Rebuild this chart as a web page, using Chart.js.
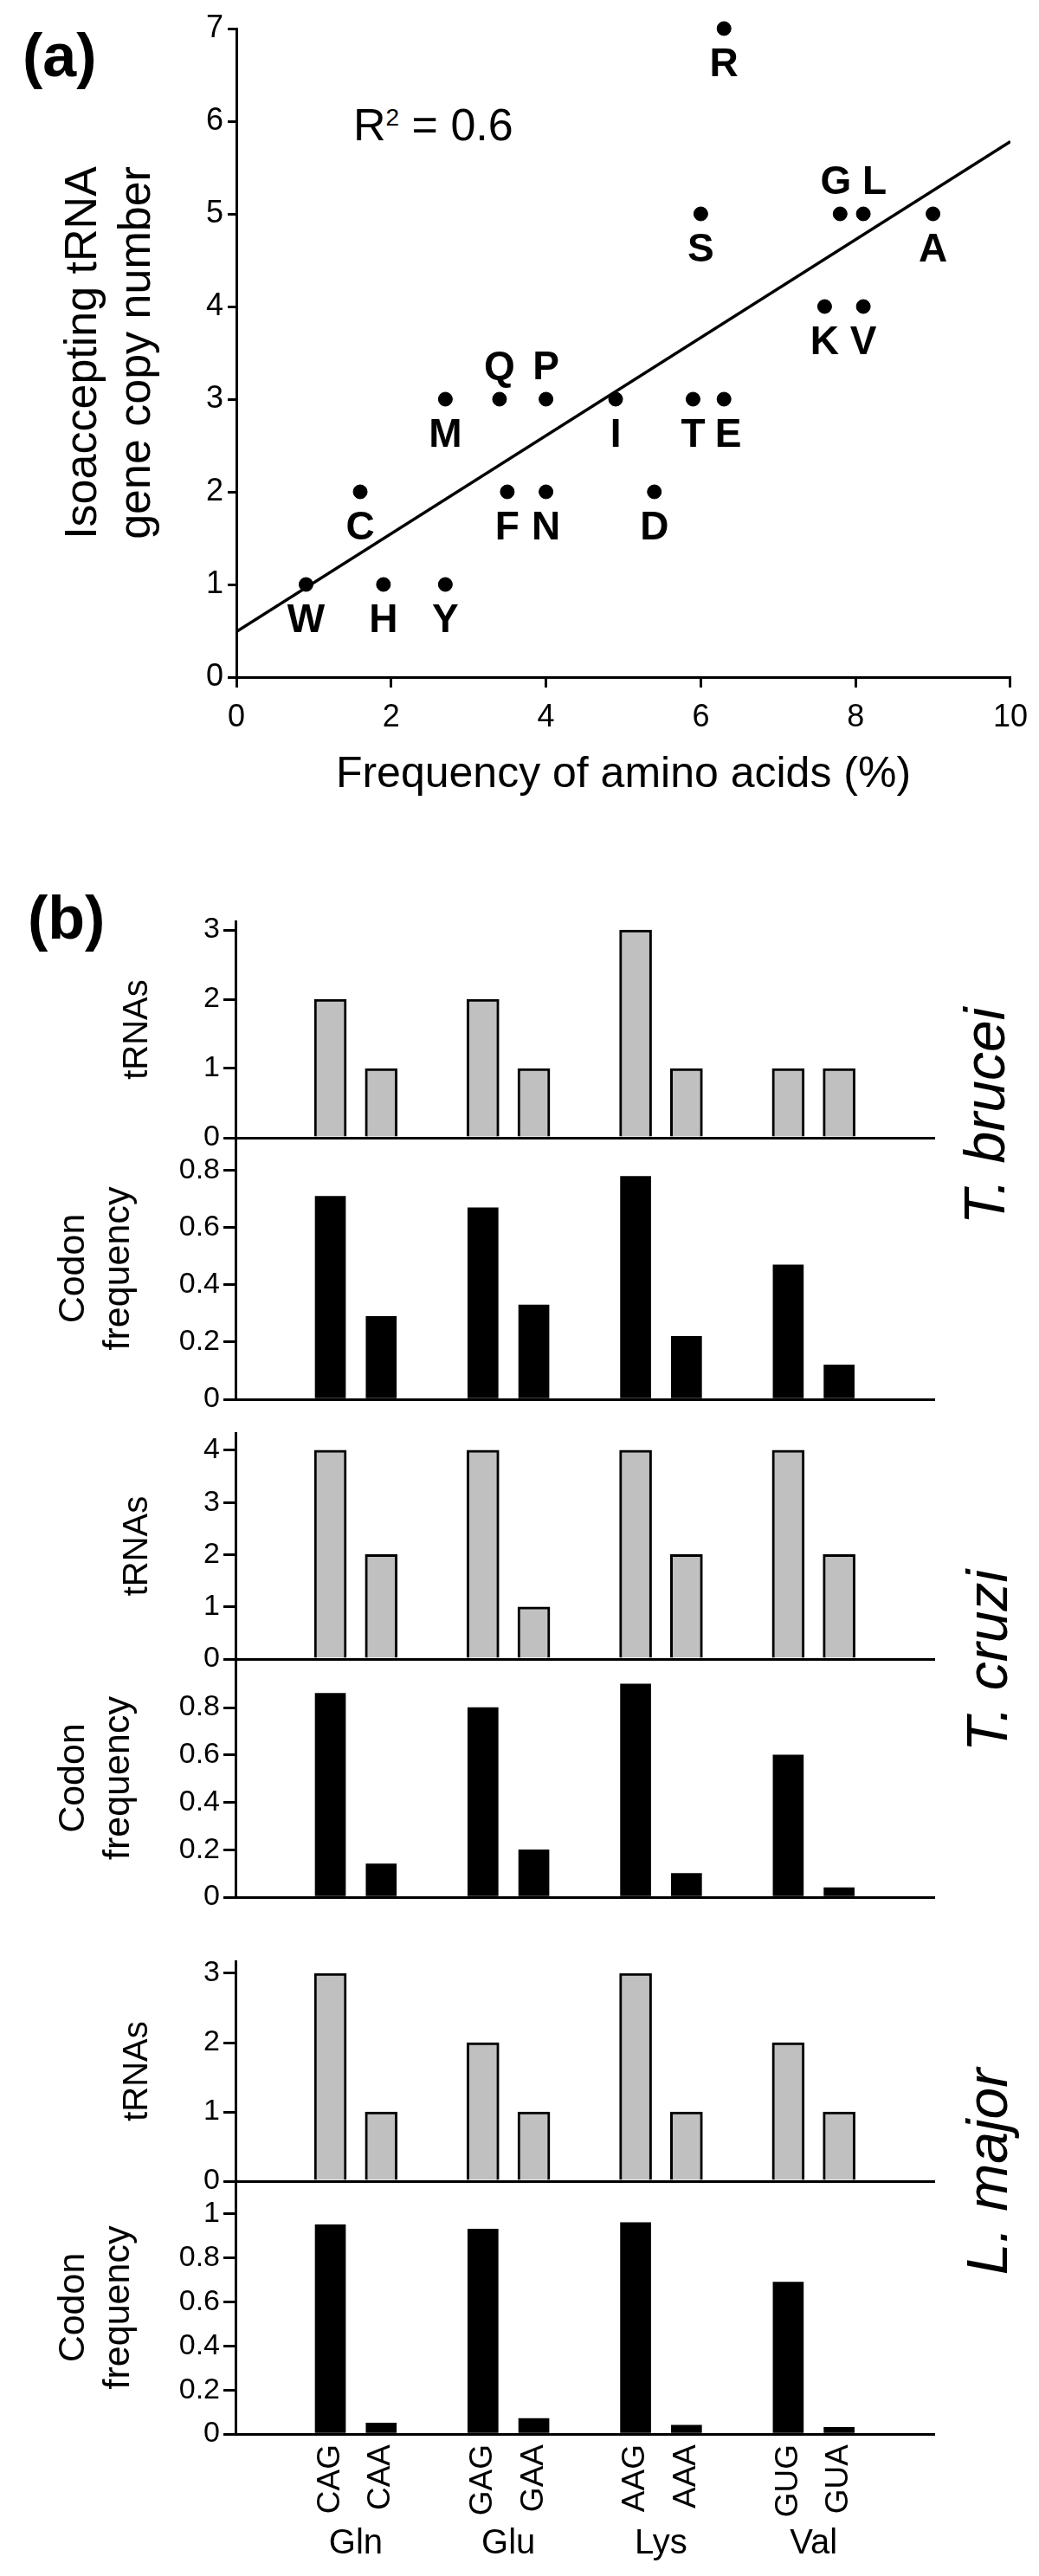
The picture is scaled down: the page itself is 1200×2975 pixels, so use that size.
<!DOCTYPE html>
<html lang="en">
<head>
    <meta charset="UTF-8">
    <title>tRNA gene copy number and codon usage</title>
    <script src="https://cdn.jsdelivr.net/npm/chart.js"></script>
    <style>
        body {
            margin: 0;
            background: #fff;
            font-family: 'Liberation Sans', Arial, sans-serif;
            color: #000;
        }
        #page {
            position: relative;
            width: 1200px;
            height: 2975px;
            overflow: hidden;
        }
        canvas {
            position: absolute;
            left: 0;
        }
        .tag {
            position: absolute;
            font-weight: bold;
            font-size: 70px;
            line-height: 70px;
        }
        .species {
            position: absolute;
            font-style: italic;
            font-size: 66px;
            line-height: 66px;
            white-space: nowrap;
            transform: translate(-50%, -50%) rotate(-90deg);
        }
        .r2 {
            position: absolute;
            left: 408px;
            top: 118px;
            font-size: 52px;
            line-height: 52px;
            white-space: nowrap;
        }
        .r2 span {
            font-size: 28px;
            position: relative;
            top: -17px;
        }
    </style>
</head>
<body>
<div id="page">
    <div class="tag" style="left:26px; top:29px;">(a)</div>
    <div class="r2">R<span>2</span> = 0.6</div>
    <div class="tag" style="left:32px; top:1025px;">(b)</div>
    <div class="species" style="left:1137px; top:1289px;">T. brucei</div>
    <div class="species" style="left:1140px; top:1918px;">T. cruzi</div>
    <div class="species" style="left:1140px; top:2508px;">L. major</div>
</div>

<script>
    // (a) amino acids: frequency vs isoaccepting tRNA gene copies
    const aminoNames = ['W', 'H', 'Y', 'C', 'F', 'N', 'D', 'M', 'Q', 'P', 'I', 'T', 'E', 'K', 'V', 'S', 'G', 'L', 'A', 'R'];
    const aaFrequency = [0.9, 1.9, 2.7, 1.6, 3.5, 4.0, 5.4, 2.7, 3.4, 4.0, 4.9, 5.9, 6.3, 7.6, 8.1, 6.0, 7.8, 8.1, 9.0, 6.3];
    const tRNACopies = [1, 1, 1, 2, 2, 2, 2, 3, 3, 3, 3, 3, 3, 4, 4, 5, 5, 5, 5, 7];
    const labelsAbove = ['Q', 'P', 'G', 'L'];
    // fitted line, read at both ends of the x range
    const fitX = [0, 10];
    const fitY = [0.49, 5.78];

    // (b) codons and amino acids
    const codons = ['CAG', 'CAA', 'GAG', 'GAA', 'AAG', 'AAA', 'GUG', 'GUA'];
    const aminoGroups = ['Gln', 'Glu', 'Lys', 'Val'];

    const bruceiTRNA = [2, 1, 2, 1, 3, 1, 1, 1];
    const bruceiCodon = [0.71, 0.29, 0.67, 0.33, 0.78, 0.22, 0.47, 0.12];
    const cruziTRNA = [4, 2, 4, 1, 4, 2, 4, 2];
    const cruziCodon = [0.86, 0.14, 0.80, 0.20, 0.90, 0.10, 0.60, 0.04];
    const majorTRNA = [3, 1, 2, 1, 3, 1, 2, 1];
    const majorCodon = [0.95, 0.05, 0.93, 0.07, 0.96, 0.04, 0.69, 0.03];

    Chart.defaults.font.family = "'Liberation Sans', Arial, sans-serif";
    Chart.defaults.color = '#000';
    Chart.defaults.animation = false;

    const page = document.getElementById('page');

    function makeCanvas(top, height) {
        const c = document.createElement('canvas');
        c.width = 1200;
        c.height = height;
        c.style.top = top + 'px';
        c.style.width = '1200px';
        c.style.height = height + 'px';
        page.appendChild(c);
        return c;
    }

    // letters next to the dots
    const pointLabels = {
        id: 'pointLabels',
        afterDatasetsDraw(chart, args, opts) {
            const meta = chart.getDatasetMeta(0);
            const ctx = chart.ctx;
            ctx.save();
            ctx.font = opts.font;
            ctx.fillStyle = '#000';
            ctx.textAlign = 'center';
            ctx.textBaseline = 'middle';
            meta.data.forEach((pt, i) => {
                const name = aminoNames[i];
                const dy = labelsAbove.includes(name) ? opts.above : opts.below;
                const dx = opts.nudge[name] || 0;
                ctx.fillText(name, pt.x + dx, pt.y + dy);
            });
            ctx.restore();
        }
    };

    const axisLine = { color: '#000', width: 3 };
    const tickGrid = (len) => ({ drawOnChartArea: false, color: '#000', lineWidth: 3, tickLength: len });
    // 0, 0.2 ... 1 without trailing zeros
    const plainNum = v => String(Math.round(v * 10) / 10);

    // Panel (a)
    new Chart(makeCanvas(0, 940), {
        type: 'scatter',
        data: {
            datasets: [
                {
                    data: aaFrequency.map((x, i) => ({ x: x, y: tRNACopies[i] })),
                    pointRadius: 8,
                    backgroundColor: '#000',
                    borderColor: '#000',
                    clip: false
                },
                {
                    type: 'line',
                    data: fitX.map((x, i) => ({ x: x, y: fitY[i] })),
                    borderColor: '#000',
                    borderWidth: 3.5,
                    pointRadius: 0,
                    showLine: true,
                    fill: false
                }
            ]
        },
        options: {
            responsive: false,
            events: [],
            layout: { padding: { top: 33, right: 29, bottom: 13, left: 0 } },
            plugins: {
                legend: { display: false },
                tooltip: { enabled: false },
                pointLabels: {
                    font: "bold 46px 'Liberation Sans', Arial, sans-serif",
                    above: -36,
                    below: 42,
                    nudge: { G: -5, L: 13, E: 5 }
                }
            },
            scales: {
                x: {
                    type: 'linear',
                    min: 0,
                    max: 10,
                    ticks: { stepSize: 2, font: { size: 36 }, padding: 13 },
                    grid: tickGrid(12),
                    border: axisLine,
                    title: {
                        display: true,
                        text: 'Frequency of amino acids (%)',
                        font: { size: 50 },
                        padding: { top: 0, bottom: 2 }
                    },
                    afterFit: s => { s.height = 145; }
                },
                y: {
                    min: 0,
                    max: 7,
                    ticks: { stepSize: 1, font: { size: 36 }, padding: 5 },
                    grid: tickGrid(10),
                    border: axisLine,
                    title: {
                        display: true,
                        text: ['Isoaccepting tRNA', 'gene copy number'],
                        font: { size: 52, lineHeight: 1.2 },
                        padding: { top: 65, bottom: 0 }
                    },
                    afterFit: s => { s.width = 273; }
                }
            }
        },
        plugins: [pointLabels]
    });

    // Panel (b): six stacked bar charts sharing the same x range
    const xMin = 0.136;
    const xMax = 13.87;
    const slotOf = i => Math.floor(i / 2) * 3 + (i % 2) + 2;

    const panelB = [
        { vals: bruceiTRNA,  kind: 'trna',  top: 1064, bottom: 1314, max: 3.125, step: 1,   topTick: 3 },
        { vals: bruceiCodon, kind: 'codon', top: 1314, bottom: 1616, max: 0.915, step: 0.2, topTick: 0.8 },
        { vals: cruziTRNA,   kind: 'trna',  top: 1655, bottom: 1916, max: 4.33,  step: 1,   topTick: 4 },
        { vals: cruziCodon,  kind: 'codon', top: 1916, bottom: 2191, max: 1.005, step: 0.2, topTick: 0.8 },
        { vals: majorTRNA,   kind: 'trna',  top: 2265, bottom: 2519, max: 3.175, step: 1,   topTick: 3 },
        { vals: majorCodon,  kind: 'codon', top: 2519, bottom: 2811, max: 1.148, step: 0.2, topTick: 1, last: true }
    ];

    panelB.forEach(p => {
        const padTop = 40;
        const padBottom = p.last ? 0 : 25;
        const xHeight = p.last ? 100 : 0;
        const x2Height = p.last ? 64 : 0;
        const height = padTop + (p.bottom - p.top) + padBottom + xHeight + x2Height;
        const isTRNA = p.kind === 'trna';

        const scales = {
            x: {
                type: 'linear',
                min: xMin,
                max: xMax,
                offset: false,
                position: 'bottom',
                afterBuildTicks: s => { s.ticks = codons.map((c, i) => ({ value: slotOf(i) })); },
                ticks: {
                    display: !!p.last,
                    callback: (v, i) => codons[i],
                    font: { size: 37 },
                    minRotation: 90,
                    maxRotation: 90,
                    autoSkip: false,
                    padding: 12
                },
                grid: { display: false, drawTicks: false, offset: false },
                border: axisLine,
                afterFit: s => { s.height = xHeight; }
            },
            y: {
                min: 0,
                max: p.max,
                afterBuildTicks: s => { s.ticks = s.ticks.filter(t => t.value <= p.topTick + 1e-9); },
                ticks: { stepSize: p.step, includeBounds: false, font: { size: 34 }, padding: 4, callback: plainNum },
                grid: tickGrid(14),
                border: axisLine,
                title: isTRNA
                    ? { display: true, text: 'tRNAs', font: { size: 40, lineHeight: 1.2 }, padding: { top: 135, bottom: 0 } }
                    : { display: true, text: ['Codon', 'frequency'], font: { size: 43, lineHeight: 1.21 }, padding: { top: 59, bottom: 0 } },
                afterFit: s => { s.width = 272; }
            }
        };

        if (p.last) {
            scales.x2 = {
                type: 'linear',
                min: xMin,
                max: xMax,
                offset: false,
                position: 'bottom',
                weight: 1,
                afterBuildTicks: s => { s.ticks = aminoGroups.map((g, k) => ({ value: slotOf(k * 2) + 0.5 })); },
                ticks: {
                    callback: (v, i) => aminoGroups[i],
                    font: { size: 40 },
                    autoSkip: false,
                    maxRotation: 0,
                    padding: 3
                },
                grid: { display: false, drawTicks: false, offset: false },
                border: { display: false },
                afterFit: s => { s.height = x2Height; }
            };
        }

        new Chart(makeCanvas(p.top - padTop, height), {
            type: 'bar',
            data: {
                datasets: [{
                    data: p.vals.map((v, i) => ({ x: slotOf(i), y: v })),
                    backgroundColor: isTRNA ? '#c0c0c0' : '#000',
                    borderColor: '#000',
                    borderWidth: isTRNA ? 3 : 0,
                    borderSkipped: 'start',
                    barThickness: isTRNA ? 37 : 35
                }]
            },
            options: {
                responsive: false,
                events: [],
                layout: { padding: { top: padTop, right: 121, bottom: padBottom, left: 0 } },
                plugins: {
                    legend: { display: false },
                    tooltip: { enabled: false }
                },
                scales: scales
            }
        });
    });
</script>
</body>
</html>
